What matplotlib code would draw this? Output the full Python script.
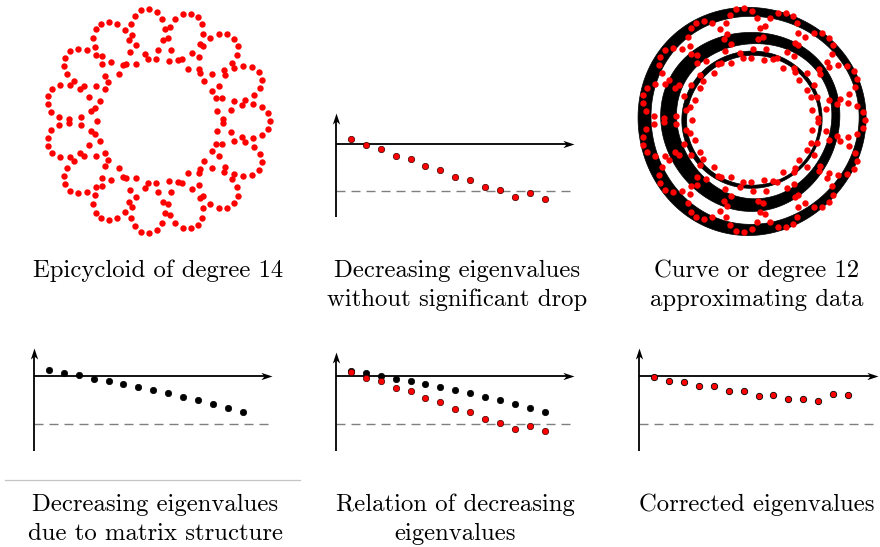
import numpy as np
import matplotlib
matplotlib.use("Agg")
import matplotlib.pyplot as plt
from matplotlib.path import Path
from matplotlib.patches import PathPatch
from matplotlib.lines import Line2D

W, H = 880, 547

# ---------------- data ----------------
# eigenvalue index
idx = np.arange(1, 15)
# values in units where horizontal axis = 0 and dashed threshold = -1
eig_no_drop = [0.099, -0.034, -0.106, -0.254, -0.323, -0.471, -0.55, -0.698,
               -0.767, -0.915, -0.985, -1.12, -1.049, -1.163]
eig_structure = [0.112, 0.062, 0.008, -0.062, -0.11, -0.166, -0.228, -0.29,
                 -0.358, -0.435, -0.503, -0.58, -0.669, -0.758]
eig_data = [0.09, -0.042, -0.104, -0.25, -0.319, -0.465, -0.54, -0.694,
            -0.75, -0.902, -0.973, -1.11, -1.042, -1.152]
eig_corrected = [-0.021, -0.098, -0.119, -0.208, -0.215, -0.313, -0.313,
                 -0.41, -0.402, -0.479, -0.479, -0.527, -0.375, -0.39]

# epicycloid sample (parametric curve named in the caption)
epi_R = 86.5
epi_r = 26.0
epi_k = 14          # counter-rotating frequency -> 15 lobes
epi_n = 216

# degree-12 curve bands: mean radius, half width, width modulation, modulation angle (deg),
# radial wobble amplitude, wobble harmonic, wobble phase (deg)
band_radius = [109.0, 83.5, 67.5]
band_half = [5.0, 6.0, 1.9]
band_mod = [1.6, 2.0, 0.6]
band_phase = [200.0, 190.0, 150.0]
band_wobble = [1.4, 1.6, 0.8]
band_harm = [3, 3, 2]
band_wphase = [40.0, 100.0, 20.0]

captions = [
    ("Epicycloid of degree 14",),
    ("Decreasing eigenvalues", "without significant drop"),
    ("Curve or degree 12", "approximating data"),
    ("Decreasing eigenvalues", "due to matrix structure"),
    ("Relation of decreasing", "eigenvalues"),
    ("Corrected eigenvalues",),
]

# ---------------- figure ----------------
fig = plt.figure(figsize=(W / 100, H / 100), dpi=100)
fig.patch.set_facecolor("white")


def add_px_axes(left, top, w, h):
    ax = fig.add_axes([left / W, 1 - (top + h) / H, w / W, h / H])
    ax.axis("off")
    return ax


t = np.linspace(0, 2 * np.pi, epi_n, endpoint=False)
epi_x = epi_R * np.cos(t) + epi_r * np.cos(epi_k * t)
epi_y = epi_R * np.sin(t) - epi_r * np.sin(epi_k * t)

# Panel 1: epicycloid
cx, cy = 157.5, 121.0
ax1 = add_px_axes(cx - 130, cy - 125, 260, 250)
ax1.set_xlim(-130, 130)
ax1.set_ylim(-125, 125)
ax1.plot(epi_x, epi_y, "o", color="#ff0000", ms=4.6, mec="#ff0000", mew=0, ls="none")

# Panel 3: curve of degree 12 approximating data
cx3, cy3 = 752.5, 120.0
ax3 = add_px_axes(cx3 - 130, cy3 - 125, 260, 250)
ax3.set_xlim(-130, 130)
ax3.set_ylim(-125, 125)
th = np.linspace(0, 2 * np.pi, 721)
for rc, hw, md, ph, wb, hm, wph in zip(band_radius, band_half, band_mod, band_phase,
                                       band_wobble, band_harm, band_wphase):
    wdt = hw + md * np.cos(th - np.deg2rad(ph))
    mid = rc + wb * np.cos(hm * th - np.deg2rad(wph))
    ro = mid + wdt
    ri = mid - wdt
    xo, yo = ro * np.cos(th), ro * np.sin(th)
    xi, yi = (ri * np.cos(th))[::-1], (ri * np.sin(th))[::-1]
    verts = np.concatenate([np.column_stack([xo, yo]), np.column_stack([xi, yi])])
    codes = ([Path.MOVETO] + [Path.LINETO] * (len(th) - 2) + [Path.CLOSEPOLY]) * 2
    ax3.add_patch(PathPatch(Path(verts, codes), facecolor="black", edgecolor="black", lw=0.5))
ax3.plot(epi_x, epi_y, "o", color="#ff0000", ms=4.6, mec="#ff0000", mew=0, ls="none")

# stealth arrow heads
head_right = Path([(0, 0), (-1, 0.33), (-0.72, 0), (-1, -0.33), (0, 0)],
                  [Path.MOVETO, Path.LINETO, Path.LINETO, Path.LINETO, Path.CLOSEPOLY])
head_up = Path([(0, 0), (-0.33, -1), (0, -0.72), (0.33, -1), (0, 0)],
               [Path.MOVETO, Path.LINETO, Path.LINETO, Path.LINETO, Path.CLOSEPOLY])


def eig_axes(ox, oy, yunit, ytop, xunit=14.9):
    x0, x1 = -0.8, 16.4
    y0, y1 = -1.75, 0.8
    ax = add_px_axes(ox + x0 * xunit, oy - y1 * yunit, (x1 - x0) * xunit, (y1 - y0) * yunit)
    ax.set_xlim(x0, x1)
    ax.set_ylim(y0, y1)
    ax.plot([0, 16], [-1, -1], color="#7f7f7f", lw=1.0, ls=(0, (6.5, 4.3)), zorder=1)
    ax.plot([0, 15.6], [0, 0], color="black", lw=1.3, solid_capstyle="butt", zorder=2)
    ax.plot([0, 0], [-1.56, ytop - 0.1], color="black", lw=1.3, solid_capstyle="butt", zorder=2)
    ax.plot([16], [0], marker=head_right, ms=16, color="black", mew=0, zorder=3)
    ax.plot([0], [ytop], marker=head_up, ms=16, color="black", mew=0, zorder=3)
    return ax


# Panel 2
ax2 = eig_axes(336.0, 143.7, 47.3, 0.65)
ax2.plot(idx, eig_no_drop, "o", color="#ff0000", ms=4.6, mec="#3a0000", mew=0.5, ls="none", zorder=4)

# Panel 4
ax4 = eig_axes(34.0, 375.7, 48.3, 0.57)
ax4.plot(idx, eig_structure, "o", color="black", ms=4.6, mec="black", mew=0.5, ls="none", zorder=4)

# Panel 5
ax5 = eig_axes(336.0, 376.0, 48.0, 0.5)
ax5.plot(idx, eig_structure, "o", color="black", ms=4.6, mec="black", mew=0.5, ls="none", zorder=4)
ax5.plot(idx, eig_data, "o", color="#ff0000", ms=4.6, mec="#3a0000", mew=0.5, ls="none", zorder=5)

# Panel 6
ax6 = eig_axes(639.3, 376.0, 48.0, 0.58)
ax6.plot(idx, eig_corrected, "o", color="#ff0000", ms=4.6, mec="black", mew=0.6, ls="none", zorder=4)

# separator line under panel 4
fig.add_artist(Line2D([5 / W, 300 / W], [1 - 480 / H, 1 - 480 / H],
                      color="#c4c4c4", lw=0.9, transform=fig.transFigure))

# captions
cap_x = [158, 457, 757, 155, 455, 757]
cap_y = [277, 277, 277, 511, 511, 511]
line_gap = 29
for (lines, x, y) in zip(captions, cap_x, cap_y):
    for j, s in enumerate(lines):
        fig.text(x / W, 1 - (y + j * line_gap) / H, s, ha="center", va="baseline",
                 fontsize=17.8, family="cmr10", color="black")

fig.savefig("out.png", dpi=100, facecolor="white")
